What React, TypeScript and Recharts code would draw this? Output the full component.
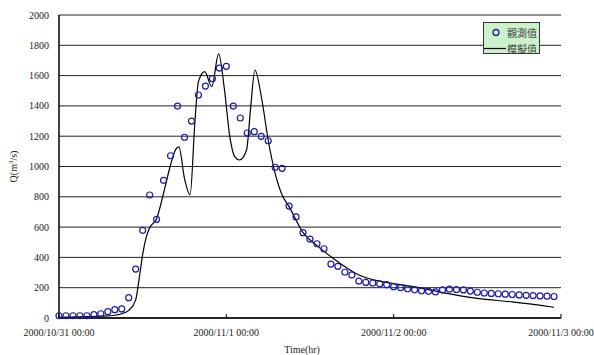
import { ComposedChart, Scatter, Line, XAxis, YAxis, CartesianGrid, Legend } from "recharts";

// observed flow, hourly from 2000/10/31 00:00
const obsHours = Array.from({ length: 72 }, (_, i) => i);
const obsValues = [
  15, 15, 15, 15, 15, 22, 28, 42, 55, 60,
  134, 323, 579, 812, 651, 909, 1071, 1399, 1193, 1300,
  1472, 1531, 1580, 1650, 1661, 1399, 1320, 1221, 1230, 1199,
  1170, 995, 988, 739, 667, 563, 521, 490, 457, 356,
  341, 302, 284, 244, 235, 231, 226, 220, 207, 200,
  193, 186, 180, 176, 172, 185, 190, 188, 185, 178,
  170, 165, 162, 160, 157, 155, 152, 150, 148, 146,
  144, 142,
];

// simulated flow
const modelHours = [
  0, 3, 6, 8, 9, 10, 11, 11.5, 12, 12.5, 13, 14, 15, 16, 16.7, 17.2, 18, 18.8,
  19.5, 20, 20.9, 21.9, 22.9, 23.7, 24.5, 25.2, 25.9, 26.9, 27.5, 28.1, 29.1,
  30, 31, 32, 33, 35, 37, 39, 43, 49, 51, 55, 60, 65, 71,
];
const modelValues = [
  5, 8, 12, 18, 28, 50, 120, 260, 420, 530, 595, 655, 825, 1010, 1110, 1130, 920, 812,
  1300, 1560, 1626, 1527, 1743, 1520, 1197, 1065, 1043, 1109, 1395, 1637, 1439,
  1175, 955, 812, 735, 563, 478, 405, 284, 220, 205, 168, 130, 106, 71,
];

const xTicks = [0, 24, 48, 72];
const xTickLabels = ["2000/10/31 00:00", "2000/11/1 00:00", "2000/11/2 00:00", "2000/11/3 00:00"];
const yTicks = [0, 200, 400, 600, 800, 1000, 1200, 1400, 1600, 1800, 2000];

const obsData = obsHours.map((t, i) => ({ t, q: obsValues[i] }));
const modelData = modelHours.map((t, i) => ({ t, q: modelValues[i] }));

const serif = "Liberation Serif";
const cjk = "Noto Sans CJK TC";
const blue = "#1c1ca8";
const txt = { fontFamily: serif, fontSize: 10 };

function XTick(props: any) {
  const { x, y, payload } = props;
  const i = xTicks.indexOf(payload.value);
  return (
    <g>
      <line x1={x} x2={x} y1={y} y2={y - 4} stroke="#000" />
      <text x={x} y={y + 18} textAnchor="middle" style={txt} fill="#222">
        {xTickLabels[i]}
      </text>
    </g>
  );
}

function YTick(props: any) {
  const { x, y, payload } = props;
  return (
    <text x={x} y={y + 3.5} textAnchor="end" style={txt} fill="#222">
      {payload.value}
    </text>
  );
}

function YLabel(props: any) {
  const { viewBox } = props;
  const cx = 14;
  const cy = viewBox.y + viewBox.height / 2;
  return (
    <text x={cx} y={cy + 3} transform={`rotate(-90 ${cx} ${cy})`} textAnchor="middle" style={txt} fill="#222">
      Q(m<tspan style={{ fontSize: 7 }} dy={-4}>3</tspan>
      <tspan dy={4}>/s)</tspan>
    </text>
  );
}

function XLabel(props: any) {
  const { viewBox } = props;
  return (
    <text x={viewBox.x + viewBox.width / 2 - 8} y={353} textAnchor="middle" style={txt} fill="#222">
      Time(hr)
    </text>
  );
}

function LegendBox() {
  return (
    <div
      style={{
        width: 57,
        height: 32,
        background: "#ccf2cc",
        border: "1px solid #333",
        boxSizing: "border-box",
        fontFamily: cjk,
        fontSize: 10,
        color: "#444",
        position: "relative",
      }}
    >
      <svg width={22} height={30} style={{ position: "absolute", left: 0, top: 0 }}>
        <circle cx={12} cy={9.5} r={3} fill="none" stroke={blue} strokeWidth={1.3} />
        <line x1={0} x2={22} y1={25.5} y2={25.5} stroke="#000" strokeWidth={1.2} />
      </svg>
      <div style={{ position: "absolute", left: 23, top: 2, lineHeight: "15px" }}>觀測值</div>
      <div style={{ position: "absolute", left: 23, top: 18, lineHeight: "15px" }}>模擬值</div>
    </div>
  );
}

export default function App() {
  return (
    <div style={{ position: "absolute", left: 0, top: 0, background: "#fff" }}>
      <ComposedChart width={594} height={355} margin={{ top: 15, right: 33, bottom: 7, left: 0 }}>
        <CartesianGrid vertical={false} stroke="#222" strokeWidth={1} />
        <XAxis
          dataKey="t"
          type="number"
          domain={[0, 72]}
          ticks={xTicks}
          tick={<XTick />}
          tickSize={0}
          tickMargin={0}
          tickLine={false}
          height={30}
          axisLine={{ stroke: "#000", strokeWidth: 1.5 }}
          interval={0}
          label={<XLabel />}
        />
        <YAxis
          type="number"
          domain={[0, 2000]}
          ticks={yTicks}
          width={59}
          tickLine={false}
          tickSize={0}
          tickMargin={10}
          interval={0}
          axisLine={{ stroke: "#000", strokeWidth: 1.5 }}
          tick={<YTick />}
          label={<YLabel />}
        />
        <YAxis yAxisId="r" orientation="right" domain={[0, 2000]} width={0} tick={false} tickLine={false} axisLine={{ stroke: "#000", strokeWidth: 1.2 }} />
        <Legend
          layout="horizontal"
          verticalAlign="middle"
          align="center"
          content={<LegendBox />}
          wrapperStyle={{ position: "absolute", left: 483, top: 22, width: 57, height: 32 }}
        />
        <Line
          data={modelData}
          dataKey="q"
          name="模擬值"
          type="monotone"
          stroke="#000"
          strokeWidth={1.2}
          dot={false}
          activeDot={false}
          isAnimationActive={false}
        />
        <Scatter
          data={obsData}
          dataKey="q"
          name="觀測值"
          shape={(p: any) => <circle cx={p.cx} cy={p.cy} r={3} fill="none" stroke={blue} strokeWidth={1.2} />}
          isAnimationActive={false}
        />
      </ComposedChart>
    </div>
  );
}
